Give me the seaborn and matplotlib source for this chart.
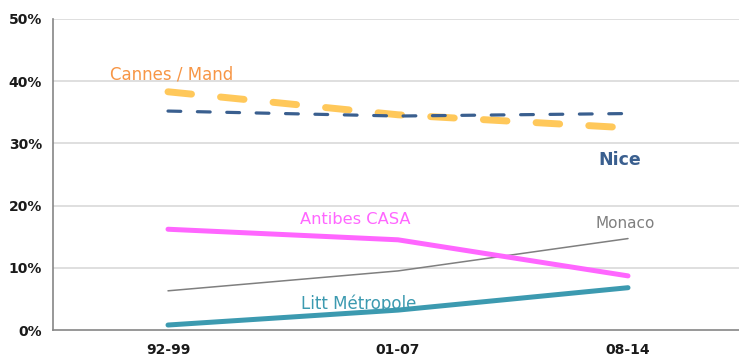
import matplotlib
matplotlib.use("Agg")
import matplotlib.pyplot as plt
import seaborn as sns
import numpy as np
import pandas as pd

periods = ["92-99", "01-07", "08-14"]
nice = [35.2, 34.4, 34.8]
cannes = [38.3, 34.6, 32.5]
antibes = [16.2, 14.5, 8.7]
monaco = [6.3, 9.5, 14.7]
litt = [0.8, 3.2, 6.8]
y_ticks = [0, 10, 20, 30, 40, 50]

sns.set_theme(style="white")
plt.rcParams["font.family"] = ["DejaVu Sans"]

fig = plt.figure(figsize=(7.39, 3.59), dpi=100)
ax = fig.add_axes([53 / 739, 29 / 359, 690 / 739, 311 / 359])

x = np.arange(len(periods))

series = {
    "Nice": (nice, "#3A5F8F", 2.3, (4.0, 5.2)),
    "Cannes / Mand": (cannes, "#FFC85A", 5.0, (3.4, 4.2)),
    "Antibes CASA": (antibes, "#FF66FF", 3.6, None),
    "Monaco": (monaco, "#7F7F7F", 1.1, None),
    "Litt Métropole": (litt, "#3C9AB0", 3.6, None),
}

# thin and solid lines first, dashed ones on top
for name in ["Monaco", "Litt Métropole", "Antibes CASA", "Cannes / Mand", "Nice"]:
    vals, color, lw, dash = series[name]
    df = pd.DataFrame({"x": x, "y": vals})
    sns.lineplot(data=df, x="x", y="y", ax=ax, color=color, linewidth=lw)
    l = ax.lines[-1]
    if dash is not None:
        l.set_dashes(dash)
        l.set_dash_capstyle("round")
    l.set_solid_capstyle("round")

ax.set_xlim(-0.5, 2.5)
ax.set_ylim(0, 50)
ax.set_yticks(y_ticks)
ax.set_yticklabels([f"{v}%" for v in y_ticks], fontsize=10, fontweight="bold", color="#1a1a1a")
ax.set_xticks(x)
ax.set_xticklabels(periods, fontsize=10, fontweight="bold", color="#1a1a1a")
ax.set_xticks([0.5, 1.5], minor=True)
ax.tick_params(axis="x", which="major", length=0, pad=9)
ax.tick_params(axis="x", which="minor", length=4, width=1, color="#868686", direction="out")
ax.tick_params(axis="y", which="major", length=4, width=1, color="#868686", direction="out", pad=4)
ax.set_xlabel("")
ax.set_ylabel("")

for v in y_ticks[1:]:
    ax.axhline(v, color="#D9D9D9", linewidth=1.2, zorder=0)

for side in ["top", "right"]:
    ax.spines[side].set_visible(False)
for side in ["left", "bottom"]:
    ax.spines[side].set_color("#868686")
    ax.spines[side].set_linewidth(1.2)

ax.text(-0.25, 41.0, "Cannes / Mand", color="#F79646", fontsize=12, ha="left", va="center")
ax.text(1.87, 27.4, "Nice", color="#3A5F8F", fontsize=12.5, fontweight="bold", ha="left", va="center")
ax.text(0.575, 17.8, "Antibes CASA", color="#FF66FF", fontsize=11.7, ha="left", va="center")
ax.text(1.86, 17.2, "Monaco", color="#7F7F7F", fontsize=11, ha="left", va="center")
ax.text(0.58, 4.3, "Litt Métropole", color="#3C9AB0", fontsize=12, ha="left", va="center")

fig.savefig("out.png", dpi=100)
